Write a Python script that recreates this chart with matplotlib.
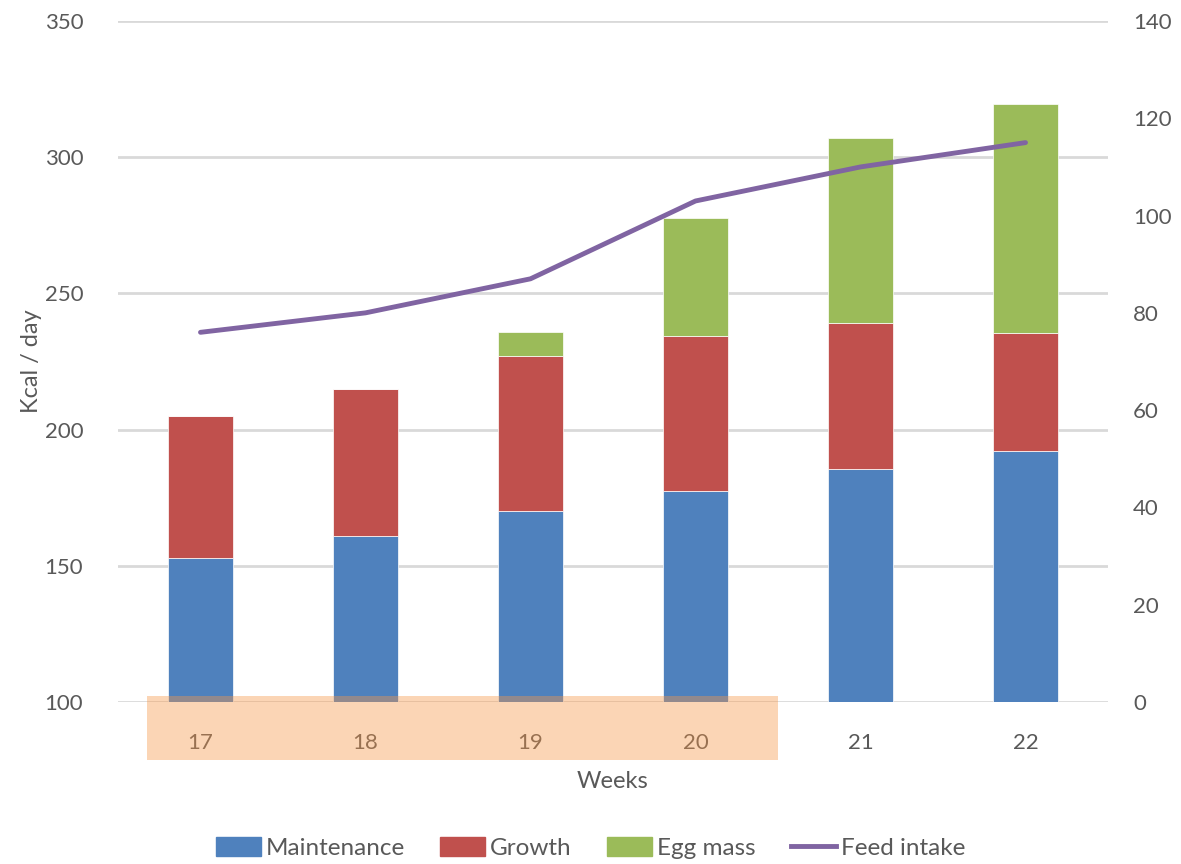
import matplotlib.pyplot as plt
import matplotlib.transforms as mtransforms
from matplotlib.patches import Rectangle, Patch
from matplotlib.lines import Line2D
import numpy as np

plt.rcParams['font.family'] = ['Lato', 'DejaVu Sans']

# data
weeks = ['17', '18', '19', '20', '21', '22']
maintenance = [153, 161, 170, 177.5, 185.5, 192]
growth = [52, 54, 57, 57, 53.5, 43.5]
egg_mass = [0, 0, 9, 43, 68, 84]
feed_intake = [76, 80, 87, 103, 110, 115]

c_maint = '#4F81BD'
c_growth = '#C0504D'
c_egg = '#9BBB59'
c_feed = '#8064A2'
c_text = '#595959'
c_grid = '#D9D9D9'

fig = plt.figure(figsize=(11.81, 8.64), dpi=100)
ax = fig.add_axes([118 / 1181, 1 - 702 / 864, 990 / 1181, 681 / 864])
ax2 = ax.twinx()

x = np.arange(len(weeks))
w = 0.39
bottom2 = np.array(maintenance) + np.array(growth)
ax.bar(x, maintenance, w, color=c_maint, edgecolor='white', linewidth=0.5, zorder=2)
ax.bar(x, growth, w, bottom=maintenance, color=c_growth, edgecolor='white',
       linewidth=0.5, zorder=2)
ax.bar(x, egg_mass, w, bottom=bottom2, color=c_egg, edgecolor='white',
       linewidth=0.5, zorder=2)

ax2.plot(x, feed_intake, color=c_feed, linewidth=3.5, solid_capstyle='round')

ax.set_xlim(-0.5, len(weeks) - 0.5)
ax.set_ylim(100, 350)
ax.set_yticks(range(100, 351, 50))
ax2.set_ylim(0, 140)
ax2.set_yticks(range(0, 141, 20))

ax.yaxis.grid(True, color=c_grid, linewidth=2)
ax.set_axisbelow(True)
for a in (ax, ax2):
    for s in a.spines.values():
        s.set_visible(False)
    a.tick_params(length=0, labelsize=16, colors=c_text)
ax.tick_params(axis='y', pad=25)
ax.tick_params(axis='x', pad=22)
ax2.tick_params(axis='y', pad=18)
ax.set_xticks(x)
ax.set_xticklabels(weeks)

ax.set_ylabel('Kcal / day', fontsize=17, color=c_text, labelpad=2)
ax.set_xlabel('Weeks', fontsize=17, color=c_text, labelpad=13)

# highlight box over weeks 17-20
trans = mtransforms.blended_transform_factory(ax.transData, ax.transAxes)
hl = Rectangle((-0.324, -0.085), 3.824, 0.094, transform=trans,
               facecolor='#F79646', alpha=0.4, edgecolor='none',
               clip_on=False, zorder=10)
ax2.add_patch(hl)

handles = [Patch(color=c_maint), Patch(color=c_growth), Patch(color=c_egg),
           Line2D([], [], color=c_feed, linewidth=3.5)]
fig.legend(handles, ['Maintenance', 'Growth', 'Egg mass', 'Feed intake'],
           loc='center', bbox_to_anchor=(0.5, 1 - 848 / 864), ncol=4,
           frameon=False, fontsize=17.5, labelcolor=c_text,
           handlelength=1.85, handleheight=0.85, handletextpad=0.2,
           columnspacing=1.45)

fig.savefig('out.png', dpi=100)
